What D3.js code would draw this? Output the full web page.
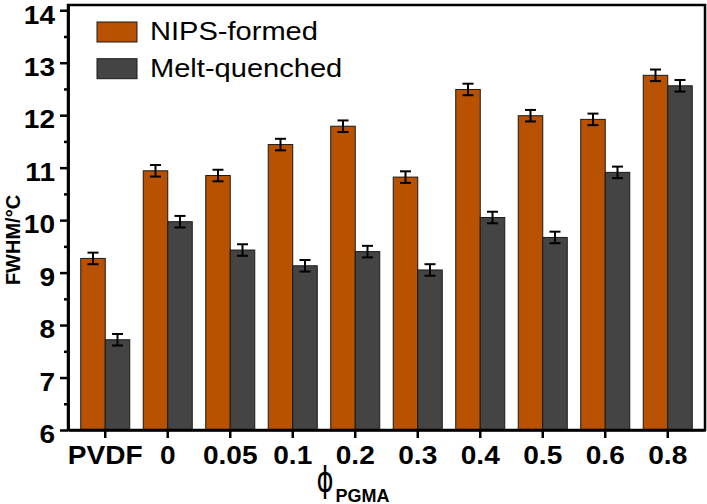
<!DOCTYPE html>
<html>
<head>
<meta charset="utf-8">
<script src="https://cdn.jsdelivr.net/npm/d3@7"></script>
<style>
  body { margin: 0; background: #fff; }
  svg { display: block; font-family: "Liberation Sans", Arial, sans-serif; }
</style>
</head>
<body>
<svg id="chart" width="707" height="504"></svg>
<script>
// categories (phi_PGMA) and the two series
const categories = ['PVDF', '0', '0.05', '0.1', '0.2', '0.3', '0.4', '0.5', '0.6', '0.8'];
const seriesNames = ['NIPS-formed', 'Melt-quenched'];
const nipsValues = [9.27, 10.94, 10.85, 11.44, 11.79, 10.82, 12.49, 11.99, 11.92, 12.76];
const meltValues = [7.72, 9.97, 9.43, 9.13, 9.40, 9.05, 10.05, 9.67, 10.91, 12.56];
const nipsErrors = [0.11, 0.11, 0.11, 0.11, 0.11, 0.11, 0.11, 0.11, 0.11, 0.11];
const meltErrors = [0.11, 0.11, 0.11, 0.11, 0.11, 0.11, 0.11, 0.11, 0.11, 0.11];
const yTicks = [6, 7, 8, 9, 10, 11, 12, 13, 14];
const yMinorTicks = [6.5, 7.5, 8.5, 9.5, 10.5, 11.5, 12.5, 13.5];

const colors = { 'NIPS-formed': '#b85200', 'Melt-quenched': '#444444' };

// plot frame
const dims = { left: 68, right: 705, top: 5, bottom: 430 };
const STRETCH = 1.1; // reference text is a bit wider than Liberation Sans

const svg = d3.select('#chart');

const x0 = d3.scaleBand()
  .domain(categories)
  .range([dims.left, dims.right])
  .paddingInner(0)
  .paddingOuter(0.096);

const x1 = d3.scaleBand()
  .domain(seriesNames)
  .range([0, x0.bandwidth()])
  .paddingInner(0)
  .paddingOuter(0.275);

const y = d3.scaleLinear()
  .domain([6, 14.1])
  .range([dims.bottom, dims.top]);

// build rows for the bars
const rows = [];
categories.forEach((cat, i) => {
  rows.push({ cat, series: 'NIPS-formed', value: nipsValues[i], err: nipsErrors[i] });
  rows.push({ cat, series: 'Melt-quenched', value: meltValues[i], err: meltErrors[i] });
});

// bars
const bars = svg.append('g').attr('class', 'bars');
bars.selectAll('rect')
  .data(rows)
  .enter().append('rect')
  .attr('x', d => x0(d.cat) + x1(d.series))
  .attr('y', d => y(d.value))
  .attr('width', x1.bandwidth())
  .attr('height', d => y(6) - y(d.value))
  .attr('fill', d => colors[d.series])
  .attr('stroke', '#1a1a1a')
  .attr('stroke-width', 1);

// error bars
const errs = svg.append('g').attr('class', 'errors')
  .attr('stroke', '#000')
  .attr('stroke-width', 2);
const cx = d => x0(d.cat) + x1(d.series) + x1.bandwidth() / 2;
errs.selectAll('line.v')
  .data(rows)
  .enter().append('line')
  .attr('class', 'v')
  .attr('x1', cx).attr('x2', cx)
  .attr('y1', d => y(d.value + d.err))
  .attr('y2', d => y(d.value - d.err));
['top', 'bottom'].forEach(side => {
  errs.selectAll('line.' + side)
    .data(rows)
    .enter().append('line')
    .attr('class', side)
    .attr('x1', d => cx(d) - 5.5).attr('x2', d => cx(d) + 5.5)
    .attr('y1', d => y(side === 'top' ? d.value + d.err : d.value - d.err))
    .attr('y2', d => y(side === 'top' ? d.value + d.err : d.value - d.err));
});

// frame around the plot
svg.append('rect')
  .attr('x', dims.left)
  .attr('y', dims.top)
  .attr('width', dims.right - dims.left)
  .attr('height', dims.bottom - dims.top)
  .attr('fill', 'none')
  .attr('stroke', '#000')
  .attr('stroke-width', 2.5);

// left axis, major ticks with labels
const yAxisGroup = svg.append('g')
  .attr('transform', `translate(${dims.left},0)`)
  .call(d3.axisLeft(y).tickValues(yTicks).tickSize(8).tickSizeOuter(0).tickFormat(d3.format('d')));
yAxisGroup.selectAll('text')
  .attr('x', -13 / STRETCH)
  .attr('dy', '0.5em')
  .attr('transform', `scale(${STRETCH},1)`);

// left axis, minor ticks
svg.append('g')
  .attr('transform', `translate(${dims.left},0)`)
  .call(d3.axisLeft(y).tickValues(yMinorTicks).tickSize(4).tickSizeOuter(0).tickFormat(''));

// bottom axis
const xAxisGroup = svg.append('g')
  .attr('transform', `translate(0,${dims.bottom})`)
  .call(d3.axisBottom(x0).tickSize(8).tickSizeOuter(0));
xAxisGroup.selectAll('text')
  .attr('y', 16)
  .attr('dy', '0.71em')
  .attr('transform', `scale(${STRETCH},1)`);

svg.selectAll('.domain').attr('stroke-width', 2.5);
svg.selectAll('.tick line').attr('stroke-width', 2.5);
svg.selectAll('.tick text')
  .attr('font-family', '"Liberation Sans", Arial, sans-serif')
  .attr('font-size', 25.5)
  .attr('font-weight', 'bold')
  .attr('fill', '#000');

// y axis title
svg.append('text')
  .attr('transform', 'translate(20,240) rotate(-90)')
  .attr('text-anchor', 'middle')
  .attr('font-size', 20)
  .attr('font-weight', 'bold')
  .text('FWHM/°C');

// x axis title: phi with PGMA subscript
svg.append('text')
  .attr('transform', 'translate(325,492) scale(0.72,1)')
  .attr('text-anchor', 'middle')
  .attr('font-family', '"DejaVu Sans", sans-serif')
  .attr('font-size', 36)
  .text('\u03D5');
svg.append('text')
  .attr('x', 335.5)
  .attr('y', 501.5)
  .attr('font-size', 18)
  .attr('font-weight', 'bold')
  .text('PGMA');

// legend
const legend = svg.append('g').attr('class', 'legend');
seriesNames.forEach((name, i) => {
  const ly = 22 + i * 36.7;
  legend.append('rect')
    .attr('x', 97)
    .attr('y', ly)
    .attr('width', 40)
    .attr('height', 20)
    .attr('fill', colors[name])
    .attr('stroke', '#1a1a1a')
    .attr('stroke-width', 1);
  legend.append('text')
    .attr('transform', `translate(150,${ly + 18}) scale(1.14,1)`)
    .attr('font-size', 25.5)
    .text(name);
});
</script>
</body>
</html>
